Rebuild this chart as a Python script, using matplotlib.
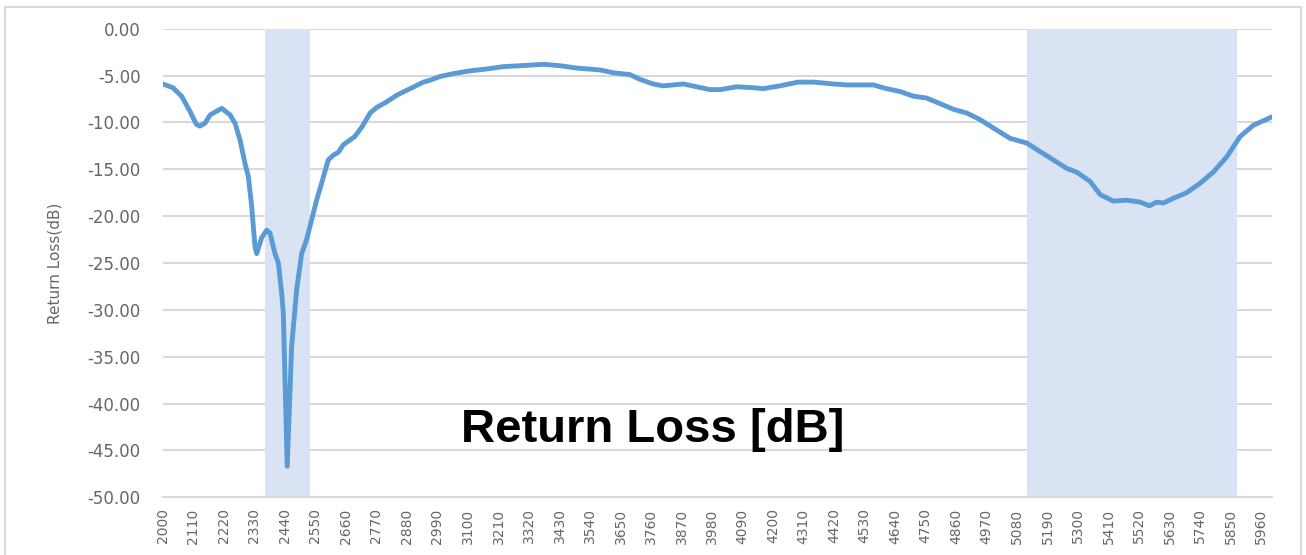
import numpy as np
import matplotlib.pyplot as plt
from matplotlib.patches import Rectangle

# values (MHz, dB)
freq_mhz = [2000, 2036, 2067, 2097, 2120, 2133, 2151, 2170, 2194, 2212,
            2242, 2260, 2278, 2296, 2308, 2320, 2332, 2338, 2356, 2374,
            2386, 2404, 2416, 2428, 2434, 2448, 2464, 2482, 2500, 2518,
            2536, 2554, 2572, 2596, 2614, 2632, 2650, 2692, 2717, 2747,
            2771, 2807, 2843, 2891, 2939, 2963, 2999, 3047, 3107, 3167,
            3227, 3288, 3372, 3432, 3492, 3576, 3624, 3684, 3720, 3768,
            3804, 3877, 3925, 3973, 4009, 4069, 4129, 4165, 4225, 4291,
            4346, 4418, 4466, 4538, 4562, 4610, 4658, 4706, 4754, 4803,
            4851, 4899, 4947, 4995, 5055, 5115, 5163, 5211, 5259, 5295,
            5344, 5380, 5428, 5476, 5524, 5558, 5584, 5608, 5644, 5692,
            5740, 5788, 5836, 5885, 5933, 6000]
return_loss_db = [-5.9, -6.3, -7.2, -8.8, -10.2, -10.4, -10.1, -9.2, -8.8, -8.5,
                  -9.2, -10.1, -11.9, -14.4, -15.8, -19.0, -23.3, -24.0, -22.3, -21.5,
                  -21.8, -24.0, -25.0, -28.2, -30.4, -46.7, -33.9, -27.9, -24.0, -22.5,
                  -20.4, -18.3, -16.5, -14.0, -13.5, -13.2, -12.4, -11.5, -10.5, -9.0,
                  -8.4, -7.8, -7.1, -6.4, -5.7, -5.5, -5.1, -4.8, -4.5, -4.3,
                  -4.05, -3.95, -3.8, -3.95, -4.2, -4.4, -4.7, -4.9, -5.4, -5.9,
                  -6.1, -5.9, -6.2, -6.5, -6.5, -6.2, -6.3, -6.4, -6.1, -5.7,
                  -5.7, -5.9, -6.0, -6.0, -6.0, -6.4, -6.7, -7.2, -7.4, -8.0,
                  -8.6, -9.0, -9.7, -10.6, -11.7, -12.2, -13.1, -14.0, -14.9, -15.3,
                  -16.3, -17.7, -18.4, -18.3, -18.5, -18.9, -18.5, -18.6, -18.1, -17.5,
                  -16.5, -15.3, -13.7, -11.5, -10.3, -9.4]

# highlighted bands (MHz)
bands = [(2368, 2532), (5115, 5874)]

x_ticks = list(range(2000, 5961, 110))
y_ticks = list(range(-50, 1, 5))

fig = plt.figure(figsize=(13.06, 5.55), dpi=100)
ax = fig.add_axes([0.1248, 0.104, 0.974 - 0.1248, 0.9483 - 0.104])

# chart frame
fig.patches.append(Rectangle((5 / 1306, -0.01), 1296 / 1306, 548 / 555 + 0.01,
                             transform=fig.transFigure, fill=False,
                             edgecolor='#D9D9D9', linewidth=1.5))

for lo, hi in bands:
    ax.axvspan(lo, hi, color='#DAE3F3', zorder=1, linewidth=0)

ax.plot(freq_mhz, return_loss_db, color='#5B9BD5', linewidth=3.5,
        solid_capstyle='round', solid_joinstyle='round', zorder=3)

ax.set_xlim(2000, 6000)
ax.set_ylim(-50, 0)
ax.set_xticks(x_ticks)
ax.set_xticklabels([str(v) for v in x_ticks], rotation=90, fontsize=10,
                   color='#666666')
ax.set_yticks(y_ticks)
ax.set_yticklabels([f'{v:.2f}' for v in y_ticks], fontsize=12, color='#666666')
ax.tick_params(axis='both', length=0)
ax.tick_params(axis='y', pad=16)
ax.tick_params(axis='x', pad=8)

ax.set_axisbelow(True)
ax.grid(axis='y', color='#D9D9D9', linewidth=1.5)
for s in ['top', 'right', 'left']:
    ax.spines[s].set_visible(False)
ax.spines['bottom'].set_color('#D9D9D9')
ax.spines['bottom'].set_linewidth(1.5)

ax.set_ylabel('Return Loss(dB)', fontsize=11, color='#666666', labelpad=18)

fig.text(0.4996, 1 - 442 / 555, 'Return Loss [dB]', ha='center', va='baseline',
         fontsize=34, fontweight='bold', family='Liberation Sans', color='black')

fig.savefig('out.png', dpi=100)
